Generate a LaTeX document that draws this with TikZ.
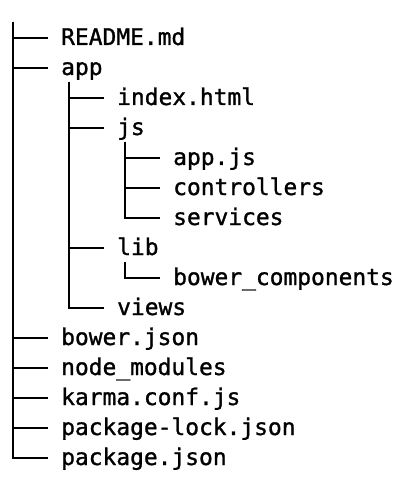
\documentclass[tikz,border=0pt]{standalone}
\usepackage{fontspec}
\setmonofont[FakeBold=1.2]{DejaVu Sans Mono}
\begin{document}
\begin{tikzpicture}[x=1pt,y=-1pt,%
entry/.style={anchor=west,inner sep=0pt,text height=17pt,text depth=3pt,font=\ttfamily\fontsize{22.9}{27}\selectfont},
branch/.style={draw,line width=2.2pt}
]
\useasboundingbox (0,0) rectangle (418,494);
\coordinate (root) at (13,22);
\node[style=entry] (readme) at (61,38) {README.md};
\node[style=entry] (app) at (61,68) {app};
\node[style=entry] (index) at (117,98) {index.html};
\node[style=entry] (js) at (117,128) {js};
\node[style=entry] (appjs) at (173,158) {app.js};
\node[style=entry] (ctrl) at (173,188) {controllers};
\node[style=entry] (services) at (173,218) {services};
\node[style=entry] (lib) at (117,248) {lib};
\node[style=entry] (bower) at (173,278) {bower\_components};
\node[style=entry] (views) at (117,308) {views};
\node[style=entry] (bowerjson) at (61,338) {bower.json};
\node[style=entry] (nodemod) at (61,368) {node\_modules};
\node[style=entry] (karma) at (61,398) {karma.conf.js};
\node[style=entry] (pkglock) at (61,428) {package-lock.json};
\node[style=entry] (pkg) at (61,458) {package.json};
% tree lines
\foreach \c in {readme,app,bowerjson,nodemod,karma,pkglock,pkg}
  \path[style=branch] (root) |- ([xshift=-13pt]\c.west);
\foreach \c in {index,js,lib,views}
  \path[style=branch] ([xshift=8pt,yshift=-14pt]app.west) |- ([xshift=-13pt]\c.west);
\foreach \c in {appjs,ctrl,services}
  \path[style=branch] ([xshift=8pt,yshift=-14pt]js.west) |- ([xshift=-13pt]\c.west);
\path[style=branch] ([xshift=8pt,yshift=-14pt]lib.west) |- ([xshift=-13pt]bower.west);
\end{tikzpicture}
\end{document}
